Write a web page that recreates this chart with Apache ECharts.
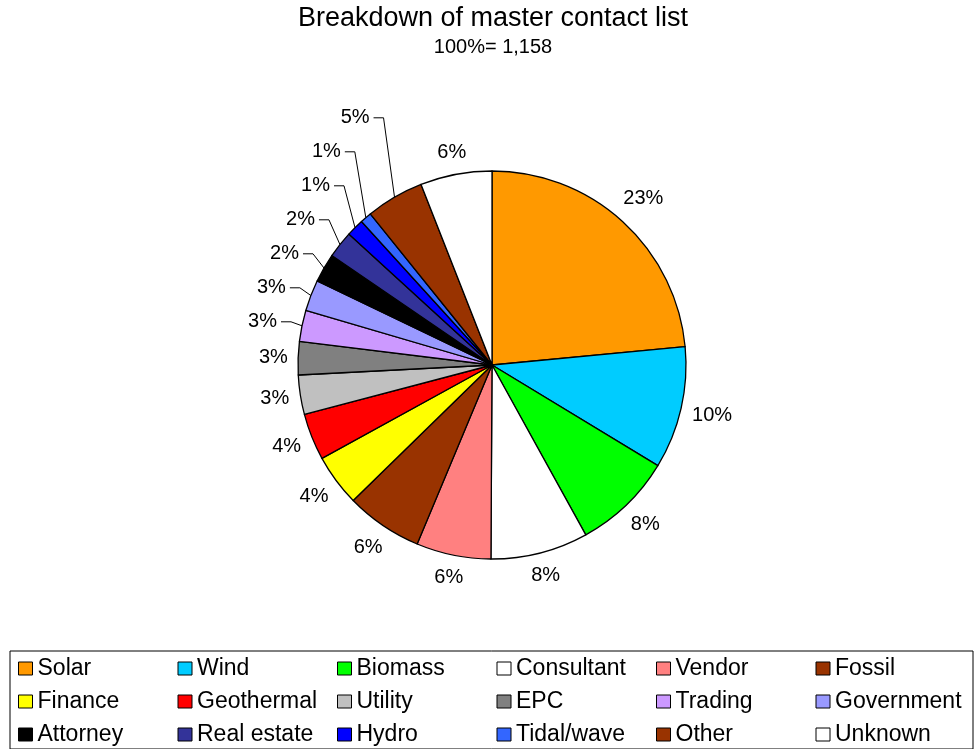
<!DOCTYPE html>
<html><head><meta charset="utf-8">
<script src="https://cdn.jsdelivr.net/npm/echarts@6/dist/echarts.min.js"></script>
<style>html,body{margin:0;padding:0;background:#fff}#c{width:975px;height:749px}</style>
</head><body><div id="c"></div>
<script>
// ---- data ----
const categories = ['Solar','Wind','Biomass','Consultant','Vendor','Fossil','Finance','Geothermal','Utility','EPC','Trading','Government','Attorney','Real estate','Hydro','Tidal/wave','Other','Unknown'];
const counts = [272,118,96,94,72,74,50,45,38,32,30,30,28,26,17,11,56,69];
const colors = ['#FF9900','#00CCFF','#00FF00','#FFFFFF','#FF8080','#993300','#FFFF00','#FF0000','#C0C0C0','#808080','#CC99FF','#9999FF','#000000','#333399','#0000FF','#3366FF','#993300','#FFFFFF'];
const leaderLabels = ['Trading','Government','Attorney','Real estate','Hydro','Tidal/wave','Other'];
const titleText = 'Breakdown of master contact list';
const subtitleText = '100%= 1,158';

// ---- layout / style ----
const FONT = "'Liberation Sans', Arial, sans-serif";
const CX = 492, CY = 365, R = 194;
const total = counts.reduce((a, b) => a + b, 0);
const mids = [];
(function () { let acc = 0; counts.forEach(v => { mids.push((acc + v / 2) / total * 2 * Math.PI); acc += v; }); })();
function arcPt(i, r) { return [CX + r * Math.sin(mids[i]), CY - r * Math.cos(mids[i])]; }
const baseIdx = categories.indexOf(leaderLabels[0]);
const baseY = arcPt(baseIdx, R)[1] - 4;
const STACK = 34;

const data = categories.map((n, i) => {
  const d = { name: n, value: counts[i], itemStyle: { color: colors[i] } };
  if (leaderLabels.indexOf(n) < 0) d.labelLine = { show: false };
  return d;
});

const chart = echarts.init(document.getElementById('c'), null, { renderer: 'canvas' });
chart.setOption({
  animation: false,
  backgroundColor: '#fff',
  textStyle: { fontFamily: FONT },
  title: {
    text: titleText, subtext: subtitleText, left: 488, textAlign: 'center', top: 0, itemGap: 3,
    textStyle: { fontSize: 27, fontWeight: 'normal', color: '#000', lineHeight: 28, fontFamily: FONT },
    subtextStyle: { fontSize: 20, color: '#000', lineHeight: 22, fontFamily: FONT }
  },
  legend: {
    data: categories, left: 10, right: 0, top: 651, orient: 'horizontal',
    icon: 'rect', itemWidth: 14, itemHeight: 13, itemGap: 10,
    padding: [6, 8, 3, 8], borderColor: '#000', borderWidth: 1,
    selectedMode: false,
    itemStyle: { borderColor: '#000', borderWidth: 1 },
    textStyle: { fontSize: 23, color: '#000', width: 130, lineHeight: 23, fontFamily: FONT }
  },
  series: [{
    type: 'pie', center: [CX, CY], radius: R, startAngle: 90, clockwise: true,
    avoidLabelOverlap: false, emphasis: { disabled: true },
    itemStyle: { borderColor: '#000', borderWidth: 1.3 },
    label: {
      show: true, position: 'outside', fontSize: 20, color: '#000', fontFamily: FONT,
      formatter: p => Math.round(p.value / total * 100) + '%'
    },
    labelLine: { show: true, length: 5, length2: 5, smooth: false, lineStyle: { color: '#000', width: 1 } },
    labelLayout: function (params) {
      const i = params.dataIndex;
      const k = leaderLabels.indexOf(categories[i]);
      if (k >= 0) {
        const p0 = arcPt(i, R);
        const y = baseY - STACK * k;
        const x2 = p0[0] - 11, x3 = x2 - 10;
        return { x: x3 - 4, y: y, align: 'right', verticalAlign: 'middle', labelLinePoints: [p0, [x2, y], [x3, y]] };
      }
      const w = params.labelRect.width, h = params.labelRect.height;
      const s = Math.sin(mids[i]), c = -Math.cos(mids[i]);
      const d = R + 10 + Math.abs(s) * w / 2 + Math.abs(c) * h / 2;
      return { x: CX + s * d, y: CY + c * d, align: 'center', verticalAlign: 'middle' };
    },
    data: data
  }]
});
</script></body></html>
